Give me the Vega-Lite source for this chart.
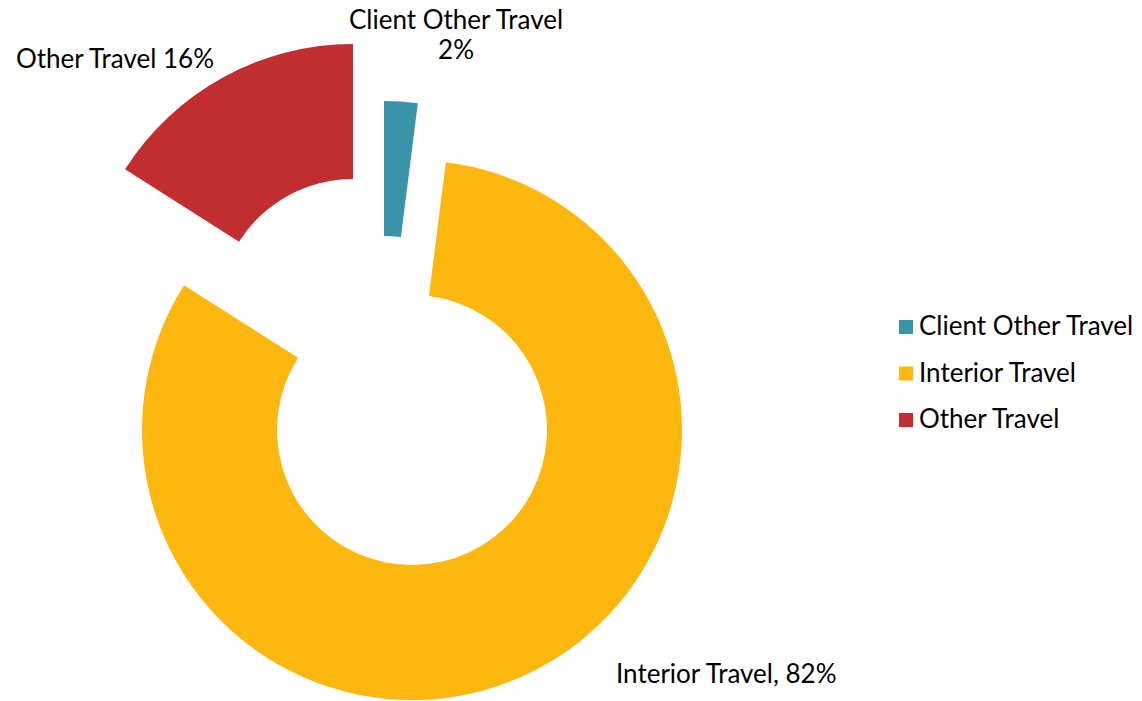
{
  "$schema": "https://vega.github.io/schema/vega-lite/v6.json",
  "width": 768,
  "height": 742,
  "padding": 0,
  "autosize": {"type": "pad"},
  "background": "white",
  "config": {"view": {"stroke": null}, "font": "Lato"},
  "data": {"values": [
    {"category": "Client Other Travel", "value": 2, "label": "Client Other Travel\n2%"},
    {"category": "Interior Travel", "value": 82, "label": "Interior Travel, 82%"},
    {"category": "Other Travel", "value": 16, "label": "Other Travel 16%"}
  ]},
  "transform": [
    {"stack": "value", "groupby": [], "sort": [{"field": "category", "order": "ascending"}], "as": ["v0", "v1"]}
  ],
  "encoding": {
    "theta": {"field": "v0", "type": "quantitative", "scale": {"domain": [0, 100]}},
    "theta2": {"field": "v1"}
  },
  "layer": [
    {
      "transform": [{"filter": "datum.category === 'Client Other Travel'"}],
      "mark": {"type": "arc", "innerRadius": 135, "outerRadius": 270},
      "encoding": {"color": {"field": "category", "type": "nominal",
        "scale": {"domain": ["Client Other Travel", "Interior Travel", "Other Travel"], "range": ["#3A94A9", "#FDB70F", "#C22D2F"]},
        "legend": {"title": null, "orient": "none", "legendX": 893, "legendY": 314, "padding": 0, "symbolType": "square", "symbolSize": 196, "labelFontSize": 26, "labelFont": "Lato", "labelColor": "#000", "labelLimit": 400, "rowPadding": 20.5, "labelOffset": 0, "symbolStrokeWidth": 0}}}
    },
    {
      "transform": [{"filter": "datum.category === 'Interior Travel'"}],
      "mark": {"type": "arc", "innerRadius": 135, "outerRadius": 270, "xOffset": 28, "yOffset": 59},
      "encoding": {"color": {"field": "category", "type": "nominal"}}
    },
    {
      "transform": [{"filter": "datum.category === 'Other Travel'"}],
      "mark": {"type": "arc", "innerRadius": 135, "outerRadius": 270, "xOffset": -31, "yOffset": -57},
      "encoding": {"color": {"field": "category", "type": "nominal"}}
    },
    {
      "transform": [{"filter": "datum.category === 'Client Other Travel'"}],
      "mark": {"type": "text", "radius": 350, "fontSize": 26, "align": "center", "baseline": "middle", "lineBreak": "\n", "lineHeight": 30, "color": "#000", "dx": 72},
      "encoding": {"theta": {"field": "v0", "type": "quantitative"}, "theta2": null, "text": {"field": "label"}}
    },
    {
      "transform": [{"filter": "datum.category === 'Other Travel'"}],
      "mark": {"type": "text", "radius": 311, "fontSize": 26, "align": "center", "baseline": "middle", "color": "#000", "dx": -269},
      "encoding": {"theta": {"field": "v1", "type": "quantitative"}, "theta2": null, "text": {"field": "label"}}
    },
    {
      "transform": [{"filter": "datum.category === 'Interior Travel'"}],
      "mark": {"type": "text", "radius": 0, "fontSize": 26, "align": "left", "baseline": "middle", "color": "#000", "dx": 232, "dy": 304},
      "encoding": {"theta": {"field": "v0", "type": "quantitative"}, "theta2": null, "text": {"field": "label"}}
    }
  ]
}
